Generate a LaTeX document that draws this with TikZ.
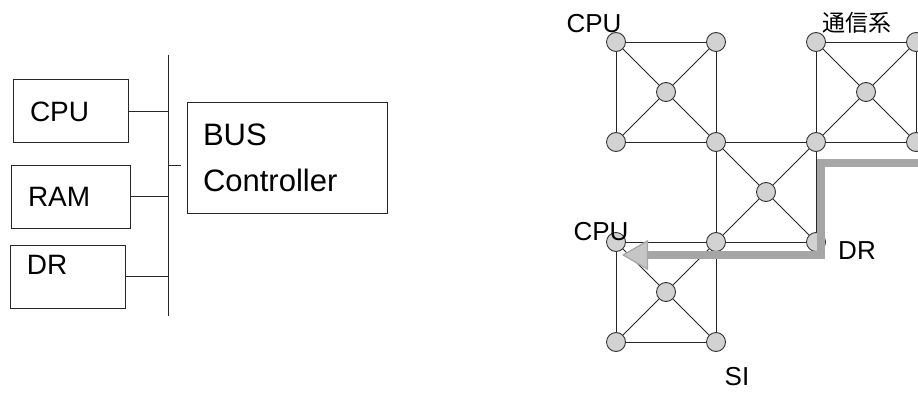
\documentclass[tikz,border=0pt]{standalone}
\usepackage{fontspec}
\setmainfont{Liberation Sans}
\newfontfamily\cjk{Noto Sans CJK JP}
\usetikzlibrary{arrows.meta}

\begin{document}
\begin{tikzpicture}[x=1pt,y=-1pt]
                        \tikzstyle{unit}=[draw=black!85, line width=1pt, rectangle, anchor=north west, inner xsep=17pt, inner ysep=0pt, outer sep=0pt, minimum height=63pt, align=left, font=\fontsize{28}{34}\selectfont]
                        \tikzstyle{wire}=[draw=black!85, line width=1pt]
                        \tikzstyle{sw}=[circle, draw=black!80, fill=gray!35, line width=0.9pt, minimum size=19pt, inner sep=0pt]
                        \tikzstyle{link}=[draw=black!85, line width=0.9pt]
                        \tikzstyle{lbl}=[font=\fontsize{26}{30}\selectfont, inner sep=0pt]
                        \tikzstyle{route}=[draw=gray!70, line width=7.5pt, -{Triangle[length=26pt,width=30pt,line width=1.2pt,fill=gray!45]}]
                        \useasboundingbox (0,0) rectangle (918,393);

                        % bus side
                        \node[unit, text width=81pt] (cpu) at (13,80) {CPU};
                        \node[unit, text width=85pt] (ram) at (11,165) {RAM};
                        \node[unit, text width=81pt, text depth=24pt] (dr) at (10,245) {DR};
                        \node[unit, text width=168pt, inner xsep=16pt, minimum height=110pt, font=\fontsize{31}{46}\selectfont] (ctrl) at (187,103) {BUS\\Controller};
                        \coordinate (bustop) at (168,55);
                        \coordinate (busbot) at (168,316);
                        \coordinate (tap) at ([yshift=-7pt]ctrl.west);
                        \draw[wire] (bustop) -- (busbot);
                        \draw[wire] (cpu.east) -- (cpu.east -| bustop);
                        \draw[wire] (ram.east) -- (ram.east -| bustop);
                        \draw[wire] (dr.east) -- (dr.east -| bustop);
                        \draw[wire, shorten >=6pt] (tap -| bustop) -- (tap);

                        % network side
                        \node[sw] (a1) at (616,42) {};
                        \node[sw] (a2) at (716,42) {};
                        \node[sw] (a4) at (816,42) {};
                        \node[sw] (a5) at (916,42) {};
                        \node[sw] (c1) at (666,92) {};
                        \node[sw] (c3) at (866,92) {};
                        \node[sw] (b1) at (616,142) {};
                        \node[sw] (b2) at (716,142) {};
                        \node[sw] (b3) at (816,142) {};
                        \node[sw] (b4) at (916,142) {};
                        \node[sw] (c2) at (766,192) {};
                        \node[sw] (d1) at (616,242) {};
                        \node[sw] (d2) at (716,242) {};
                        \node[sw] (d3) at (816,242) {};
                        \node[sw] (c4) at (666,292) {};
                        \node[sw] (e1) at (616,342) {};
                        \node[sw] (e2) at (716,342) {};

                        \draw[link] (a1) -- (a2) -- (b2) -- (b1) -- (a1);
                        \draw[link] (a1) -- (c1) -- (b2);
                        \draw[link] (a2) -- (c1) -- (b1);
                        \draw[link] (a4) -- (a5) -- (b4) -- (b3) -- (a4);
                        \draw[link] (a4) -- (c3) -- (b4);
                        \draw[link] (a5) -- (c3) -- (b3);
                        \draw[link] (b2) -- (b3) -- (d3) -- (d2) -- (b2);
                        \draw[link] (b2) -- (c2) -- (d3);
                        \draw[link] (b3) -- (c2) -- (d2);
                        \draw[link] (d1) -- (d2) -- (e2) -- (e1) -- (d1);
                        \draw[link] (d1) -- (c4) -- (e2);
                        \draw[link] (d2) -- (c4) -- (e1);

                        \node[lbl] (cpuA) at (594,24) {CPU};
                        \node[lbl, font=\cjk\fontsize{23}{28}\selectfont] (comm) at (857,23) {通信系};
                        \node[lbl] (cpuB) at (601,232) {CPU};
                        \node[lbl] (drB) at (857,251) {DR};
                        \node[lbl] (si) at (737,377) {SI};

                        \coordinate (feed) at (918,163);
                        \draw[route] (feed) -- ([shift={(5,21)}]b3.center) -- ([shift={(5,13)}]d3.center) -- ([shift={(6,13)}]d1.center);
                    \end{tikzpicture}
\end{document}
